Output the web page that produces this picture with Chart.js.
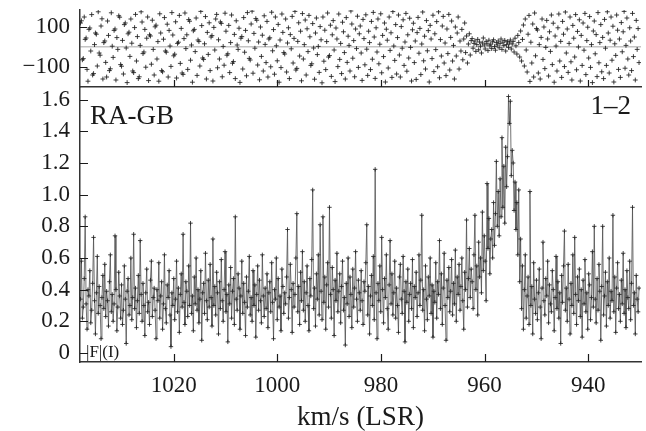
<!DOCTYPE html>
<html>
<head>
<meta charset="utf-8">
<script src="https://cdn.jsdelivr.net/npm/chart.js@4.4.1/dist/chart.umd.min.js"></script>
<style>
  html, body { margin: 0; padding: 0; background: #fff; }
  #wrap { position: relative; width: 646px; height: 431px; }
  canvas { position: absolute; left: 0; top: 0; }
</style>
</head>
<body>
<div id="wrap">
  <canvas id="spec" width="646" height="431"></canvas>
  <canvas id="phase" width="646" height="100"></canvas>
</div>
<script>
// channel grid (km/s, LSR): first channel and spacing
const velStart = 1038.0;
const velStep = 0.18;

// tick values
const velTicks = [1020, 1000, 980, 960, 940];
const ampTicks = [0, 0.2, 0.4, 0.6, 0.8, 1.0, 1.2, 1.4, 1.6];
const phaseTicks = [-100, 0, 100];

// amplitude per channel
const amp = [
  0.34, 0.58, 0.22, 0.29, 0.47, 0.86, 0.31, 0.15, 0.40, 0.36, 0.52, 0.19, 0.27, 0.44, 0.73, 0.33, 0.12, 0.38, 0.61, 0.25,
  0.42, 0.30, 0.09, 0.35, 0.49, 0.28, 0.56, 0.23, 0.39, 0.33, 0.17, 0.45, 0.62, 0.26, 0.37, 0.20, 0.31, 0.74, 0.40, 0.14,
  0.29, 0.51, 0.36, 0.22, 0.43, 0.18, 0.27, 0.55, 0.34, 0.06, 0.39, 0.47, 0.24, 0.30, 0.60, 0.21, 0.35, 0.75, 0.28, 0.41,
  0.16, 0.33, 0.49, 0.25, 0.71, 0.37, 0.20, 0.44, 0.30, 0.11, 0.38, 0.53, 0.26, 0.32, 0.18, 0.46, 0.58, 0.23, 0.35, 0.41,
  0.27, 0.09, 0.40, 0.33, 0.57, 0.22, 0.36, 0.45, 0.15, 0.31, 0.62, 0.28, 0.19, 0.43, 0.35, 0.52, 0.24, 0.04, 0.38, 0.30,
  0.47, 0.21, 0.34, 0.58, 0.26, 0.41, 0.13, 0.37, 0.50, 0.29, 0.75, 0.32, 0.18, 0.45, 0.39, 0.23, 0.55, 0.30, 0.82, 0.25,
  0.36, 0.14, 0.48, 0.31, 0.60, 0.27, 0.40, 0.19, 0.34, 0.52, 0.08, 0.38, 0.44, 0.25, 0.63, 0.33, 0.21, 0.46, 0.29, 0.56,
  0.35, 0.17, 0.72, 0.30, 0.42, 0.24, 0.51, 0.38, 0.12, 0.45, 0.28, 0.59, 0.33, 0.20, 0.40, 0.64, 0.26, 0.37, 0.07, 0.43,
  0.31, 0.54, 0.22, 0.39, 0.47, 0.18, 0.86, 0.34, 0.27, 0.50, 0.41, 0.15, 0.36, 0.58, 0.25, 0.44, 0.32, 0.11, 0.48, 0.29,
  0.39, 0.61, 0.24, 0.35, 0.20, 0.52, 0.30, 0.43, 0.10, 0.37, 0.55, 0.27, 0.46, 0.33, 0.19, 0.62, 0.36, 0.23, 0.41, 0.28,
  0.50, 0.16, 0.38, 0.45, 0.26, 0.57, 0.32, 0.09, 0.40, 0.34, 0.60, 0.21, 0.47, 0.29, 0.36, 0.14, 0.53, 0.42, 0.25, 0.38,
  0.31, 0.48, 0.78, 0.22, 0.35, 0.56, 0.40, 0.13, 0.44, 0.29, 0.37, 0.60, 0.88, 0.26, 0.42, 0.18, 0.51, 0.33, 0.64, 0.27,
  0.45, 0.20, 0.38, 0.55, 0.30, 0.14, 0.47, 0.36, 0.59, 1.03, 0.28, 0.41, 0.17, 0.50, 0.34, 0.62, 0.24, 0.81, 0.39, 0.21,
  0.86, 0.32, 0.48, 0.15, 0.43, 0.57, 0.29, 0.92, 0.37, 0.22, 0.54, 0.40, 0.11, 0.46, 0.33, 0.63, 0.26, 0.39, 0.50, 0.19,
  0.42, 0.58, 0.27, 0.35, 0.05, 0.44, 0.31, 0.60, 0.23, 0.48, 0.37, 0.16, 0.53, 0.29, 0.41, 0.64, 0.34, 0.20, 0.46, 0.38,
  0.27, 0.52, 0.33, 0.18, 0.45, 0.39, 0.57, 0.81, 0.24, 0.42, 0.12, 0.36, 0.49, 0.30, 0.61, 0.21, 1.16, 0.38, 0.09, 0.44,
  0.33, 0.55, 0.26, 0.73, 0.40, 0.19, 0.47, 0.35, 0.62, 0.28, 0.15, 0.43, 0.71, 0.31, 0.50, 0.24, 0.38, 0.58, 0.22, 0.41,
  0.30, 0.13, 0.48, 0.56, 0.34, 0.25, 0.61, 0.39, 0.07, 0.45, 0.32, 0.53, 0.20, 0.37, 0.44, 0.28, 0.59, 0.16, 0.42, 0.35,
  0.51, 0.23, 0.38, 0.62, 0.30, 0.46, 0.87, 0.27, 0.40, 0.14, 0.55, 0.34, 0.21, 0.48, 0.36, 0.60, 0.25, 0.43, 0.10, 0.39,
  0.32, 0.57, 0.22, 0.45, 0.37, 0.71, 0.28, 0.50, 0.18, 0.41, 0.63, 0.30, 0.08, 0.46, 0.35, 0.54, 0.26, 0.39, 0.59, 0.24,
  0.44, 0.31, 0.65, 0.20, 0.48, 0.37, 0.56, 0.27, 0.42, 0.60, 0.33, 0.15, 0.51, 0.40, 0.84, 0.29, 0.47, 0.66, 0.35, 0.53,
  0.45, 0.28, 0.62, 0.87, 0.40, 0.55, 0.24, 0.70, 0.48, 0.60, 0.38, 0.89, 0.52, 0.74, 0.58, 0.33, 1.07, 0.66, 0.85, 0.50,
  0.72, 0.78, 0.60, 0.95, 0.68, 0.88, 1.21, 0.80, 1.02, 0.74, 1.10, 0.86, 1.36, 0.92, 1.18, 0.82, 1.30, 1.05, 1.24, 1.62,
  1.45, 1.59, 1.12, 1.28, 1.20, 0.90, 1.08, 0.78, 0.95, 0.62, 1.03, 0.45, 0.72, 0.28, 0.55, 0.15, 0.40, 0.62, 0.22, 0.36,
  0.48, 0.18, 1.02, 0.30, 0.42, 0.12, 0.57, 0.34, 0.25, 0.46, 0.21, 0.38, 0.53, 0.29, 0.09, 0.41, 0.70, 0.33, 0.24, 0.47,
  0.36, 0.58, 0.19, 0.43, 0.31, 0.26, 0.52, 0.40, 0.14, 0.35, 0.61, 0.28, 0.45, 0.22, 0.38, 0.06, 0.49, 0.32, 0.55, 0.77,
  0.27, 0.41, 0.20, 0.56, 0.34, 0.12, 0.44, 0.30, 0.62, 0.25, 0.73, 0.37, 0.18, 0.48, 0.33, 0.53, 0.23, 0.40, 0.10, 0.46,
  0.31, 0.59, 0.26, 0.38, 0.15, 0.50, 0.43, 0.21, 0.35, 0.64, 0.29, 0.80, 0.34, 0.19, 0.47, 0.27, 0.56, 0.39, 0.08, 0.42,
  0.80, 0.24, 0.36, 0.51, 0.17, 0.45, 0.30, 0.60, 0.22, 0.39, 0.33, 0.87, 0.26, 0.48, 0.13, 0.41, 0.57, 0.28, 0.37, 0.20,
  0.46, 0.31, 0.63, 0.25, 0.40, 0.16, 0.52, 0.35, 0.28, 0.58, 0.21, 0.44, 0.92, 0.30, 0.38, 0.12, 0.49, 0.34, 0.26, 0.41
];

// phase (deg) per channel
const phase = [
  120, 131, -64, -58, 150, 38, 45, -112, -171, 88, 95, -20, 162, -140, -133, 12, 70, 64, -95, 176,
  -30, -41, 105, 141, -160, 22, 30, -77, -150, 130, 58, -118, -109, 171, 4, -52, 83, 90, -165, 47,
  -12, 156, 149, -88, -96, 33, -135, 112, 120, -5, -178, 66, 74, -47, 140, 19, -120, -128, 97, 163,
  -70, 52, -158, -149, 8, 176, 125, -33, -25, 88, -101, 44, 150, -168, 61, 55, -86, 134, -12, -140,
  101, 109, -60, 27, -171, 166, 70, -118, -124, 39, 147, -20, -26, 114, -150, 83, 5, -97, 172, 60,
  -44, -36, 126, -155, 18, 24, 158, -82, 93, -130, -137, 42, 170, -8, 61, -112, 137, 129, -66, 10,
  -176, 81, 88, -23, 145, -142, 35, 28, -95, 178, 107, -55, -62, 16, 152, -160, 73, -37, 121, -118,
  50, 57, -170, 98, -15, 140, 163, -104, 36, -60, 125, 118, -149, 3, -91, 169, 79, -41, -34, 108,
  -128, 22, 160, -81, -73, 63, -158, 131, 10, -12, 94, -177, 44, 52, -110, 147, -26, 83, -144, 172,
  31, -57, -65, 115, 179, -131, 68, -6, 142, 134, -90, 25, -164, 100, -47, 59, -120, 156, 13, -78,
  128, -150, 40, 46, -99, 174, -19, 87, -136, 150, 6, -69, 113, -176, 35, -103, 165, 73, -28, -35,
  140, -125, 20, 96, -158, 62, -9, 153, -80, 43, 178, -115, -107, 28, 121, -45, 79, -169, 167, -60,
  12, 135, -140, 91, -23, 158, 51, -92, -84, 117, -5, -161, 70, 145, -38, 3, -127, 102, 36, -179,
  150, -71, 84, -113, 27, 170, -50, -43, 109, -147, 61, 132, -15, -173, 95, 40, -98, 165, -62, 18,
  -133, 124, 76, -28, -160, 147, -77, 54, 8, -120, 180, 115, -56, 32, -149, 90, -8, 154, -102, 66,
  105, -30, -167, 138, 42, -89, 161, -11, -142, 79, 22, -113, 128, -61, 173, 50, -157, 96, -25, 140,
  -84, 14, 166, -129, 58, -48, 120, -175, 89, 34, -105, 150, -17, 71, -152, 177, 5, -67, 112, -135,
  47, 160, -40, -150, 102, -6, 136, -92, 25, 168, -121, 61, -55, 144, -2, -170, 86, 119, -78, 30,
  -162, 72, 148, -31, 93, -138, 15, 175, -69, 54, -110, 132, -19, 82, -175, 108, 40, -58, 159, -123,
  66, -13, 127, -99, 176, -154, 37, -45, 105, 153, -80, 20, -143, 90, -33, 163, -115, 48, 130, -70,
  8, -160, 100, -45, 70, 150, -110, 30, -20, 88, -64, 40, 120, -28, 55, -80, 15, 66, -40, 32,
  42, -6, 18, 30, -22, 12, 38, -14, 25, 4, -30, 20, 45, 10, -10, 28, 16, -18, 34, 6,
  14, -8, 26, 36, 2, -16, 22, 10, 30, -4, 18, 40, -12, 24, 8, 33, -20, 12, 27, -2,
  20, 35, -10, 15, 28, -25, 44, 6, -35, 58, 22, -50, 80, -70, 38, 110, -95, 140, -15, -125,
  64, 158, -172, 24, -80, 115, -150, 170, -44, 92, 85, -130, 12, -160, 48, 140, -62, 100, -108, -2,
  133, 40, -145, 76, -22, 160, -88, 119, -176, 55, 5, -120, 96, 165, -70, 28, -152, 128, 64, -98,
  175, -30, 90, -127, 18, 150, -74, -165, 108, 44, -50, 162, -114, 78, 0, 136, -170, 58, -92, 120,
  -16, 168, -138, 32, 99, -55, 152, -102, 12, -178, 80, 130, -34, 62, -148, 172, -79, 22, 112, -124,
  48, -158, 138, -6, -92, 176, 70, -130, 34, 150, -66, 104, -175, 16, -42, 160, 84, -112, 40, -152,
  122, -24, 76, 178, -106, 8, 145, -60, -140, 96, 30, -118, 168, -48, 50, -165, 133, -12, 92, -78
];

const vel = amp.map((_, i) => velStart - i * velStep);
const velMin = 929.8, velMax = 1038.1;

const serif = '"Liberation Serif", "Times New Roman", serif';
const ink = '#1a1a1a';

// tick marks pointing into the plot, like the printed figure
const innerTicks = {
  id: 'innerTicks',
  afterDraw(chart, args, opts) {
    const { ctx, chartArea: a, scales: { x, y } } = chart;
    ctx.save();
    ctx.strokeStyle = ink;
    ctx.lineWidth = 1.2;
    ctx.beginPath();
    x.ticks.forEach(t => {
      const px = Math.round(x.getPixelForValue(t.value)) + 0.5;
      ctx.moveTo(px, a.bottom);
      ctx.lineTo(px, a.bottom - opts.len);
    });
    y.ticks.forEach(t => {
      if (opts.skip && opts.skip.includes(t.value)) return;
      const py = Math.round(y.getPixelForValue(t.value)) + 0.5;
      ctx.moveTo(a.left, py);
      ctx.lineTo(a.left + opts.len, py);
    });
    ctx.stroke();
    ctx.restore();
  }
};

// panel captions
const captions = {
  id: 'captions',
  afterDraw(chart, args, opts) {
    const { ctx, chartArea: a } = chart;
    ctx.save();
    ctx.fillStyle = ink;
    ctx.textBaseline = 'middle';
    (opts.items || []).forEach(it => {
      ctx.font = it.size + 'px ' + serif;
      ctx.textAlign = it.align;
      ctx.fillText(it.text, it.right ? a.right - it.dx : a.left + it.dx, a.top + it.dy);
    });
    ctx.restore();
  }
};

const noPad = s => { s.paddingTop = 0; s.paddingBottom = 0; s.paddingLeft = 0; s.paddingRight = 0; };

const xCommon = {
  type: 'linear',
  reverse: true,
  min: velMin,
  max: velMax,
  afterBuildTicks: s => { s.ticks = velTicks.map(v => ({ value: v })); },
  grid: { display: true, drawOnChartArea: false, drawTicks: false },
  border: { display: true, color: '#333', width: 1.5 }
};

new Chart(document.getElementById('spec'), {
  type: 'line',
  data: {
    datasets: [{
      data: vel.map((v, i) => ({ x: v, y: amp[i] })),
      borderColor: 'rgba(80,80,80,0.8)',
      borderWidth: 1,
      pointStyle: 'cross',
      pointRadius: 2.2,
      pointBorderWidth: 1,
      pointBorderColor: 'rgba(35,35,35,0.85)',
      tension: 0
    }]
  },
  options: {
    responsive: false,
    animation: false,
    layout: { padding: { top: 87, right: 4, left: 0, bottom: 0 } },
    plugins: {
      legend: { display: false },
      tooltip: { enabled: false },
      innerTicks: { len: 8 },
      captions: {
        items: [
          { text: 'RA-GB', size: 27, align: 'left', dx: 10, dy: 30 },
          { text: '1\u20132', size: 27, align: 'right', right: true, dx: 10, dy: 20 },
          { text: '|F|(I)', size: 17, align: 'left', dx: 6, dy: 266 }
        ]
      }
    },
    scales: {
      x: Object.assign({}, xCommon, {
        afterFit: s => { s.height = 69; noPad(s); },
        ticks: { color: ink, font: { family: serif, size: 23 }, padding: 10, maxRotation: 0, callback: v => String(v) },
        title: { display: true, text: 'km/s (LSR)', color: ink, font: { family: serif, size: 27 }, padding: { top: 0, bottom: -3 } }
      }),
      y: {
        min: -0.057,
        max: 1.68,
        afterBuildTicks: s => { s.ticks = ampTicks.map(v => ({ value: v })); },
        afterFit: s => { s.width = 80; noPad(s); },
        ticks: {
          color: ink, font: { family: serif, size: 23 }, padding: 10,
          callback: v => v === 0 ? '0' : v.toFixed(1)
        },
        grid: { display: true, drawOnChartArea: false, drawTicks: false },
        border: { display: true, color: '#333', width: 1.5 }
      }
    }
  },
  plugins: [innerTicks, captions]
});

new Chart(document.getElementById('phase'), {
  type: 'scatter',
  data: {
    datasets: [{
      data: vel.map((v, i) => ({ x: v, y: phase[i] })),
      pointStyle: 'cross',
      pointRadius: 2.4,
      pointBorderWidth: 1,
      pointBorderColor: 'rgba(30,30,30,0.85)'
    }]
  },
  options: {
    responsive: false,
    animation: false,
    layout: { padding: { top: 10, right: 4, left: 0, bottom: 0 } },
    plugins: {
      legend: { display: false },
      tooltip: { enabled: false },
      innerTicks: { len: 7, skip: [0] }
    },
    scales: {
      x: Object.assign({}, xCommon, {
        afterFit: s => { s.height = 13; noPad(s); },
        ticks: { display: false }
      }),
      y: {
        min: -200,
        max: 185,
        afterBuildTicks: s => { s.ticks = phaseTicks.map(v => ({ value: v })); },
        afterFit: s => { s.width = 80; noPad(s); },
        ticks: {
          color: ink, font: { family: serif, size: 23 }, padding: 10,
          callback: v => v === 0 ? '' : (v < 0 ? '\u2212' + Math.abs(v) : String(v))
        },
        grid: {
          display: true, drawTicks: false, lineWidth: 1.5,
          color: c => c.tick && c.tick.value === 0 ? '#c4c4c4' : 'rgba(0,0,0,0)'
        },
        border: { display: true, color: '#333', width: 1.5 }
      }
    }
  },
  plugins: [innerTicks]
});
</script>
</body>
</html>
